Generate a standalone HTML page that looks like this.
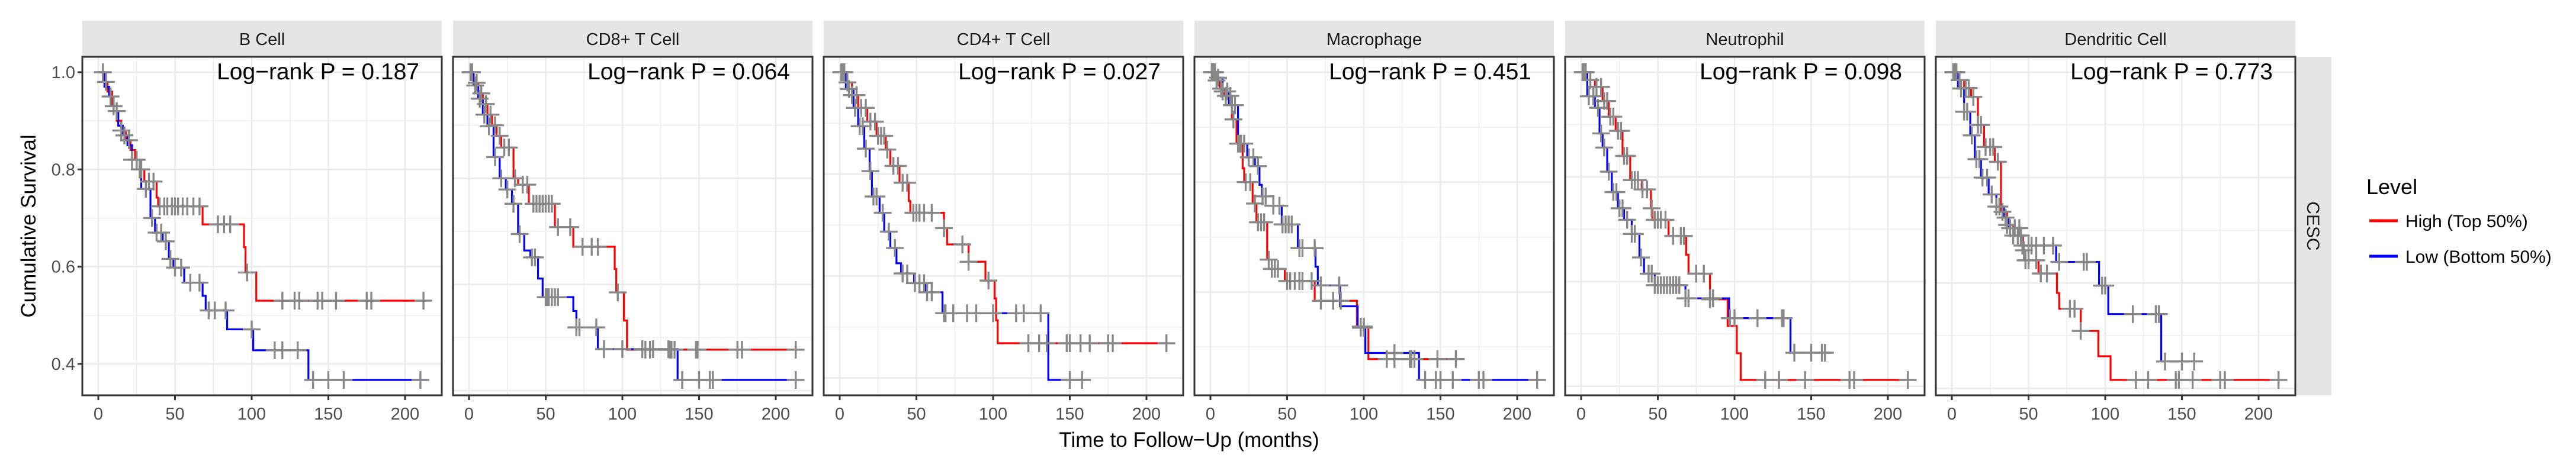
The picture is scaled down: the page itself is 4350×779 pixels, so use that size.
<!DOCTYPE html>
<html><head><meta charset="utf-8">
<style>
html,body{margin:0;padding:0;background:#fff;}
svg{display:block;font-family:"Liberation Sans",Arial,sans-serif;}
</style></head>
<body>
<svg id="chart" width="4350" height="779" viewBox="0 0 4350 779" xmlns="http://www.w3.org/2000/svg">
<text transform="translate(60,382) rotate(-90)" text-anchor="middle" font-size="35" fill="#000">Cumulative Survival</text>
<text x="2008" y="755" text-anchor="middle" font-size="35" fill="#000">Time to Follow−Up (months)</text>
<rect x="3876" y="96" width="61" height="572" fill="#e5e5e5"/>
<text transform="translate(3896,382) rotate(90)" text-anchor="middle" font-size="30" fill="#1a1a1a">CESC</text>
<g>
<text x="3996" y="328" font-size="36" fill="#000">Level</text>
<line x1="4001" y1="373" x2="4049" y2="373" stroke="#ff0000" stroke-width="5"/>
<text x="4062" y="384" font-size="30" fill="#000">High (Top 50%)</text>
<line x1="4001" y1="433" x2="4049" y2="433" stroke="#0000ff" stroke-width="5"/>
<text x="4062" y="444" font-size="30" fill="#000">Low (Bottom 50%)</text>
</g>
<g id="panels"></g>
</svg>
<script>
const panelTitles = ["B Cell","CD8+ T Cell","CD4+ T Cell","Macrophage","Neutrophil","Dendritic Cell"];
const pValues = ["0.187","0.064","0.027","0.451","0.098","0.773"];
const xTicks = [0,50,100,150,200];
const yTickLabels = [0.4,0.6,0.8,1.0];

const highTimes = [
 [0,3,6,9,12,15,18,21,24,27,30,38,39,68,95,96,103],
 [0,3,6,9,12,15,18,21,29,32,39,56,68,95,96,101,103],
 [0,4,8,12,18,24,30,33,39,45,46,68,70,84,95,101,102,103],
 [0,3,6,9,14,17,21,22,27.5,30,37,40,48.5,68,95.5,103],
 [0,4,9,14,18,22.5,27,32,39.5,45.5,46.5,57,68.5,70,84,95.5,101.5,104],
 [0,4,8,12.5,17,21,28,32,36,40,46.5,48,56.5,68.5,70,84,95.5,103.5]
];
const highSurv = [
 [1,0.98,0.96,0.93,0.90,0.88,0.86,0.84,0.82,0.80,0.775,0.742,0.724,0.687,0.64,0.588,0.53],
 [1,0.98,0.96,0.94,0.92,0.90,0.88,0.858,0.80,0.788,0.752,0.708,0.671,0.629,0.585,0.532,0.477],
 [1,0.98,0.955,0.93,0.903,0.875,0.848,0.816,0.783,0.747,0.724,0.694,0.662,0.628,0.591,0.556,0.513,0.468],
 [1,0.985,0.97,0.957,0.914,0.87,0.825,0.80,0.761,0.727,0.659,0.642,0.62,0.584,0.537,0.478],
 [1,0.985,0.972,0.945,0.915,0.888,0.84,0.794,0.776,0.74,0.718,0.687,0.651,0.615,0.566,0.515,0.463,0.412],
 [1,0.985,0.97,0.953,0.9,0.858,0.83,0.735,0.71,0.69,0.662,0.643,0.618,0.581,0.551,0.509,0.461,0.416]
];
const highEnd = [214,214,214,163,214,214];
const highCensor = [
 [5,10,15,20,25,28,33,36,40,43,45,48,50,52,55,58,62,66,78,82,86,97,120,128,131,143,146,155,175,178,212],
 [2,5,8,11,14,17,20,23,26,30,35,38,42,44,46,48,50,52,54,58,66,74,80,84,97,115,118,131,132,134,148,149,175,178,213],
 [1,3,5,8,11,14,17,20,23,25,27,29,31,35,38,41,44,48,50,52,55,60,68,80,84,97,123,130,135,148,150,157,163,175,178,213],
 [1,2,4,7,10,13,15,18,20,23,26,29,31,33,35,38,40,42,44,50,52,55,58,60,66,72,80,85,98,100,115,120,130,131,133,148,160],
 [1,3,6,10,13,15,17,19,21,24,26,28,30,33,35,37,40,43,46,48,50,52,55,60,65,67,75,80,84,120,129,146,175,178,213],
 [1,2,5,9,11,14,17,19,22,25,27,30,33,36,40,43,45,47,48,50,55,58,62,77,80,84,120,128,146,148,157,175,178,213]
];

const lowTimes = [
 [0,4,7,10,13,16,19,22,25,28,34,37,42,46,49,56,68,70,84,101,137],
 [0,3,6,9,12,16,20,24,28,32,36,40,45,48,68,70,84,136],
 [0,4,9,12,16,19.5,21,26,29,33,37,40,48.5,56,67,136],
 [0,3.5,8,12,18,24,29,32,33.5,41,46.5,57,68.5,70,84.5,96,101,136],
 [0,4,9,12,14,17,20,24,28,33,38,41,48,68,96.5,136.5],
 [0,4,8,12,15,19,24,29,34,37,45,68,96,102,136.5]
];
const lowSurv = [
 [1,0.97,0.95,0.92,0.89,0.87,0.85,0.82,0.80,0.76,0.70,0.67,0.652,0.616,0.598,0.567,0.54,0.51,0.471,0.428,0.367],
 [1,0.975,0.95,0.92,0.898,0.84,0.80,0.779,0.752,0.695,0.664,0.651,0.611,0.576,0.55,0.519,0.478,0.42],
 [1,0.967,0.93,0.894,0.85,0.806,0.756,0.724,0.687,0.655,0.625,0.605,0.586,0.568,0.527,0.396],
 [1,0.99,0.965,0.94,0.87,0.845,0.829,0.795,0.774,0.757,0.723,0.68,0.646,0.612,0.574,0.535,0.489,0.44],
 [1,0.954,0.932,0.883,0.856,0.81,0.771,0.74,0.718,0.691,0.646,0.615,0.593,0.568,0.53,0.464],
 [1,0.969,0.925,0.88,0.835,0.8,0.768,0.745,0.724,0.704,0.671,0.64,0.595,0.541,0.451]
];
const lowEnd = [213,213,160,214,163,163];
const lowCensor = [
 [3,8,12,17,22,27,31,35,38,41,44,47,50,54,60,66,72,76,83,100,115,120,130,140,150,160,210],
 [1,4,7,10,13,17,21,25,29,33,41,43,50,51,52,54,56,58,70,72,83,88,100,113,120,130,139,150,157,159,213],
 [2,6,10,13,15,17,20,22,24,28,32,36,41,44,49,52,55,57,60,68,69,74,83,89,100,115,120,131,150,158],
 [1,3,5,8,11,14,16,19,22,25,28,31,34,36,41,45,47,49,51,53,58,60,68,72,84,98,100,120,140,147,150,158,175,178,213],
 [1,2,5,8,11,13,15,18,21,23,25,27,30,33,35,39,44,46,48,50,52,54,56,58,60,62,64,68,70,84,86,97,100,115,131,132,139,150,157,159],
 [1,3,6,8,10,13,16,18,20,23,26,29,31,35,38,41,44,46,50,52,55,60,66,70,86,88,98,100,118,133,135,139,150,158]
];

const NS = "http://www.w3.org/2000/svg";
const root = document.getElementById("panels");
function mk(tag, attrs, parent){
  const e = document.createElementNS(NS, tag);
  for (const k in attrs) e.setAttribute(k, attrs[k]);
  parent.appendChild(e);
  return e;
}
const PW = 607, PTOP = 96, PBOT = 668, GAP = 19, X0 = 139;

function survAt(times, surv, t){
  let s = surv[0];
  for (let i=0;i<times.length;i++){ if (times[i] <= t) s = surv[i]; }
  return s;
}

for (let p=0;p<6;p++){
  const left = X0 + p*(PW+GAP);
  const g = mk("g", {}, root);
  
  
  const xs = t => left + 27 + t*2.59;
  const mn = Math.min(Math.min(...highSurv[p]), Math.min(...lowSurv[p]));
  const pad = 0.05*(1-mn);
  const dLo = mn - pad, dHi = 1 + pad;
  const ys = v => PBOT - (v - dLo)/(dHi - dLo)*(PBOT-PTOP);

  const st = mk("rect", {x:left, y:35, width:PW, height:61, fill:"#e5e5e5"}, g);
  
  
  const stt = mk("text", {x:left+PW/2, y:76, "text-anchor":"middle", "font-size":"29", fill:"#1a1a1a"}, g);
  stt.textContent = panelTitles[p];
  
  
  mk("rect", {x:left, y:PTOP, width:PW, height:PBOT-PTOP, fill:"#fff"}, g);
  for (let t=-25;t<=225;t+=25){
    const x = xs(t);
    if (x < left+2 || x > left+PW-2) continue;
    const gl = mk("line", {x1:x, x2:x, y1:PTOP, y2:PBOT, stroke:"#ebebeb", "stroke-width": (t%50===0)?2.6:1.3}, g);
    
    
  }
  for (let k=2;k<=11;k++){
    const v = k/10;
    if (v < dLo || v > dHi) continue;
    const y = ys(v);
    const gl = mk("line", {x1:left, x2:left+PW, y1:y, y2:y, stroke:"#ebebeb", "stroke-width": (k%2===0)?2.6:1.3}, g);
    
    
  }
  const series = [
    {times:highTimes[p], surv:highSurv[p], end:highEnd[p], cens:highCensor[p], col:"#ff0000", name:"high"},
    {times:lowTimes[p], surv:lowSurv[p], end:lowEnd[p], cens:lowCensor[p], col:"#0000ff", name:"low"}
  ];
  series.forEach(s => {
    let d = "M" + xs(s.times[0]) + "," + ys(s.surv[0]);
    for (let i=1;i<s.times.length;i++){
      d += " H" + xs(s.times[i]) + " V" + ys(s.surv[i]);
    }
    d += " H" + xs(s.end);
    const path = mk("path", {d:d, fill:"none", stroke:s.col, "stroke-width":3.2}, g);
    
    
  });
  series.forEach(s => {
    s.cens.forEach(t => {
      const x = xs(t), y = ys(survAt(s.times, s.surv, t));
      const c = mk("path", {d:`M${x-15},${y} H${x+15} M${x},${y-15} V${y+15}`, stroke:"#888888", "stroke-width":3.4, fill:"none"}, g);
      
      
    });
  });
  const br = mk("rect", {x:left, y:PTOP, width:PW, height:PBOT-PTOP, fill:"none", stroke:"#333", "stroke-width":3}, g);
  
  
  const pt = mk("text", {x:left+569, y:134, "text-anchor":"end", "font-size":"39", fill:"#000"}, g);
  pt.textContent = "Log−rank P = " + pValues[p];
  
  
  xTicks.forEach(t => {
    const x = xs(t);
    const tk = mk("line", {x1:x, x2:x, y1:PBOT, y2:PBOT+8, stroke:"#333", "stroke-width":3}, g);
    
    
    const tl = mk("text", {x:x, y:709, "text-anchor":"middle", "font-size":"29", fill:"#4d4d4d"}, g);
    tl.textContent = String(t);
    
    
  });
  if (p===0){
    yTickLabels.forEach(v => {
      const y = ys(v);
      const tk = mk("line", {x1:left-8, x2:left, y1:y, y2:y, stroke:"#333", "stroke-width":3}, g);
      
      
      const tl = mk("text", {x:left-12, y:y+10, "text-anchor":"end", "font-size":"29", fill:"#4d4d4d"}, g);
      tl.textContent = v.toFixed(1);
      
      
    });
  }
}
</script>
</body></html>
